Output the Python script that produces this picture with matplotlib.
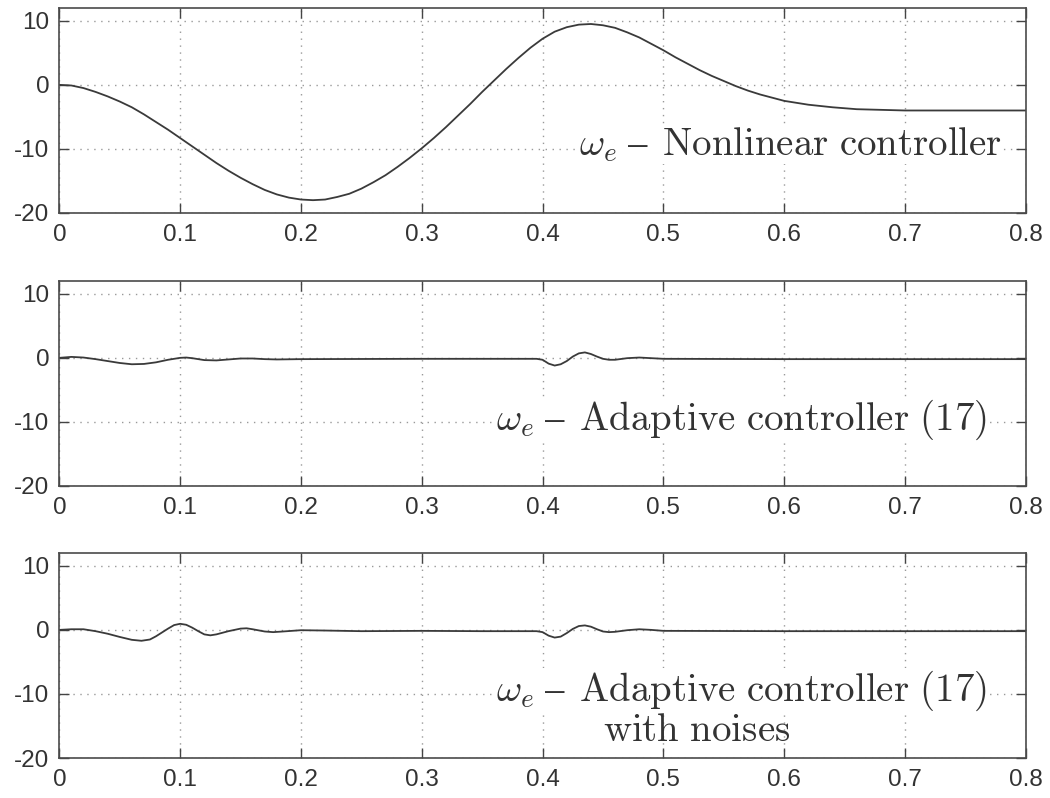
import matplotlib
matplotlib.use("Agg")
import matplotlib.pyplot as plt

plt.rcParams['mathtext.fontset'] = 'cm'

# time axis and omega_e traces
t_nonlin = [0.00, 0.01, 0.02, 0.03, 0.04, 0.05, 0.06, 0.07, 0.08, 0.09,
            0.10, 0.11, 0.12, 0.13, 0.14, 0.15, 0.16, 0.17, 0.18, 0.19,
            0.20, 0.21, 0.22, 0.23, 0.24, 0.25, 0.26, 0.27, 0.28, 0.29,
            0.30, 0.31, 0.32, 0.33, 0.34, 0.35, 0.36, 0.37, 0.38, 0.39,
            0.40, 0.41, 0.42, 0.43, 0.44, 0.45, 0.46, 0.47, 0.48, 0.49,
            0.50, 0.51, 0.52, 0.53, 0.54, 0.55, 0.56, 0.57, 0.58, 0.59,
            0.60, 0.61, 0.62, 0.63, 0.64, 0.65, 0.66, 0.67, 0.68, 0.69,
            0.70, 0.72, 0.74, 0.76, 0.78, 0.80]
w_nonlin = [0.0, -0.1, -0.5, -1.1, -1.8, -2.6, -3.5, -4.6, -5.8, -7.0,
            -8.3, -9.6, -10.9, -12.2, -13.4, -14.5, -15.5, -16.4, -17.1, -17.6,
            -17.9, -18.0, -17.9, -17.5, -17.0, -16.2, -15.2, -14.1, -12.8, -11.4,
            -9.9, -8.3, -6.6, -4.8, -3.0, -1.1, 0.7, 2.5, 4.2, 5.8,
            7.2, 8.3, 9.0, 9.4, 9.5, 9.3, 8.9, 8.2, 7.4, 6.4,
            5.4, 4.3, 3.3, 2.3, 1.4, 0.6, -0.2, -0.9, -1.5, -2.0,
            -2.5, -2.8, -3.1, -3.3, -3.5, -3.65, -3.8, -3.85, -3.9, -3.95,
            -4.0, -4.0, -4.0, -4.0, -4.0, -4.0]

t_adapt = [0.000, 0.010, 0.020, 0.030, 0.040, 0.050, 0.060, 0.070, 0.080, 0.090,
           0.100, 0.105, 0.110, 0.120, 0.130, 0.140, 0.150, 0.160, 0.170, 0.180,
           0.200, 0.300, 0.395, 0.400, 0.405, 0.410, 0.415, 0.420, 0.425, 0.430,
           0.435, 0.440, 0.445, 0.450, 0.455, 0.460, 0.470, 0.480, 0.490, 0.500,
           0.600, 0.800]
w_adapt = [0.0, 0.15, 0.05, -0.2, -0.5, -0.8, -1.0, -0.95, -0.7, -0.3,
           0.0, 0.05, -0.05, -0.35, -0.4, -0.25, -0.1, -0.1, -0.2, -0.25,
           -0.2, -0.15, -0.15, -0.3, -0.9, -1.2, -1.0, -0.5, 0.2, 0.7,
           0.85, 0.6, 0.2, -0.15, -0.3, -0.3, -0.05, 0.05, -0.05, -0.15,
           -0.2, -0.2]

t_noise = [0.000, 0.010, 0.020, 0.030, 0.040, 0.050, 0.060, 0.068, 0.075, 0.080,
           0.085, 0.090, 0.095, 0.100, 0.105, 0.110, 0.115, 0.120, 0.125, 0.130,
           0.140, 0.150, 0.155, 0.160, 0.170, 0.177, 0.185, 0.200, 0.220, 0.250,
           0.300, 0.350, 0.395, 0.400, 0.405, 0.410, 0.415, 0.420, 0.425, 0.430,
           0.435, 0.440, 0.445, 0.450, 0.455, 0.460, 0.470, 0.480, 0.490, 0.500,
           0.600, 0.800]
w_noise = [0.0, 0.1, 0.1, -0.2, -0.6, -1.1, -1.55, -1.7, -1.5, -1.0,
           -0.4, 0.2, 0.75, 0.95, 0.8, 0.35, -0.2, -0.7, -0.85, -0.7,
           -0.2, 0.2, 0.25, 0.1, -0.25, -0.35, -0.25, -0.05, -0.1, -0.2,
           -0.15, -0.2, -0.2, -0.35, -0.9, -1.2, -1.05, -0.5, 0.15, 0.6,
           0.7, 0.5, 0.1, -0.25, -0.35, -0.3, -0.05, 0.1, 0.0, -0.15,
           -0.2, -0.2]

xticks = [0, 0.1, 0.2, 0.3, 0.4, 0.5, 0.6, 0.7, 0.8]
xlabels = ['0', '0.1', '0.2', '0.3', '0.4', '0.5', '0.6', '0.7', '0.8']
yticks = [10, 0, -10, -20]
ylabels = ['10', '0', '-10', '-20']

fig = plt.figure(figsize=(10.5, 7.98), dpi=100)
left, width, height = 0.0565, 0.9205, 0.2569
bottoms = [0.7331, 0.391, 0.0501]
axes = [fig.add_axes([left, b, width, height]) for b in bottoms]

series = [(t_nonlin, w_nonlin), (t_adapt, w_adapt), (t_noise, w_noise)]
for ax, (t, w) in zip(axes, series):
    ax.plot(t, w, color='#3a3a3a', lw=1.3)
    ax.set_xlim(0, 0.8)
    ax.set_ylim(-20, 12)
    ax.set_xticks(xticks, xlabels)
    ax.set_yticks(yticks, ylabels)
    ax.tick_params(direction='in', length=7, width=1.0, color='#444444',
                   top=True, right=True, labelsize=17.5, labelcolor='#333333')
    ax.tick_params(axis='x', pad=8)
    ax.tick_params(axis='y', pad=7)
    for lab in ax.get_xticklabels() + ax.get_yticklabels():
        lab.set_fontfamily('Liberation Sans')
    ax.grid(True, color='#999999', linestyle=(0, (1, 4)), linewidth=1.0)
    for s in ax.spines.values():
        s.set_color('#4a4a4a')
        s.set_linewidth(1.2)

dash = '\\;\u2013\\;\\,'
box = dict(facecolor='white', edgecolor='none', pad=0.3)
txt = dict(fontsize=28, color='#333333', ha='right', va='baseline', bbox=box)
axes[0].text(0.780, -11.0, '$\\omega_e' + dash + '\\mathrm{Nonlinear\\ controller}$', **txt)
axes[1].text(0.768, -11.2, '$\\omega_e' + dash + '\\mathrm{Adaptive\\ controller\\ (17)}$', **txt)
axes[2].text(0.768, -11.1, '$\\omega_e' + dash + '\\mathrm{Adaptive\\ controller\\ (17)}$', **txt)
axes[2].text(0.450, -17.3, '$\\mathrm{with\\ noises}$', fontsize=28, color='#333333',
             ha='left', va='baseline')

fig.savefig('out.png', dpi=100)
